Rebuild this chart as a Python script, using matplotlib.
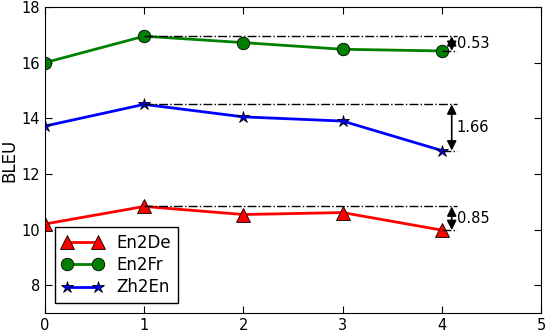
import matplotlib
matplotlib.use("Agg")
import matplotlib.pyplot as plt
import numpy as np

steps = [0, 1, 2, 3, 4]
en2de = [10.20, 10.83, 10.54, 10.61, 9.98]
en2fr = [16.00, 16.95, 16.72, 16.48, 16.42]
zh2en = [13.72, 14.50, 14.05, 13.90, 12.84]
diff_labels = ["0.85", "0.53", "1.66"]

fig = plt.figure(figsize=(5.46, 3.32), dpi=100)
ax = fig.add_axes([45 / 546, 19 / 332, 496 / 546, 306 / 332])

series = [
    (en2de, "En2De", "red", "^", 10),
    (en2fr, "En2Fr", "green", "o", 9),
    (zh2en, "Zh2En", "blue", "*", 9),
]
for vals, name, col, mk, ms in series:
    ax.plot(steps, vals, color=col, marker=mk, markersize=ms, lw=2,
            markeredgecolor="black", markeredgewidth=0.6, label=name)

# gap between best point and last point
xa = 4.1
for (vals, _, _, _, _), lab in zip(series, diff_labels):
    top = max(vals)
    bot = vals[-1]
    ax.plot([steps[int(np.argmax(vals))], 4.15], [top, top], "k-.", lw=1)
    ax.plot([4.0, 4.15], [bot, bot], "k-.", lw=1)
    ax.annotate("", xy=(xa, bot), xytext=(xa, top),
                arrowprops=dict(arrowstyle="<|-|>", color="black", lw=1.2,
                                shrinkA=0, shrinkB=0, mutation_scale=14))
    ax.text(xa + 0.05, (top + bot) / 2, lab, fontsize=10.5, va="center", ha="left")

ax.set_xlim(0, 5)
ax.set_ylim(7, 18)
ax.set_yticks([8, 10, 12, 14, 16, 18])
ax.set_xticks([0, 1, 2, 3, 4, 5])
ax.tick_params(direction="in", top=True, right=True, labelsize=10.5, length=5)
ax.set_ylabel("BLEU", fontsize=12, labelpad=2)

leg = ax.legend(loc="lower left", numpoints=2, fancybox=False, fontsize=12,
                edgecolor="black", framealpha=1, handlelength=2.5,
                labelspacing=0.25, borderaxespad=0.6)
leg.get_frame().set_linewidth(1)

fig.savefig("out.png", dpi=100)
